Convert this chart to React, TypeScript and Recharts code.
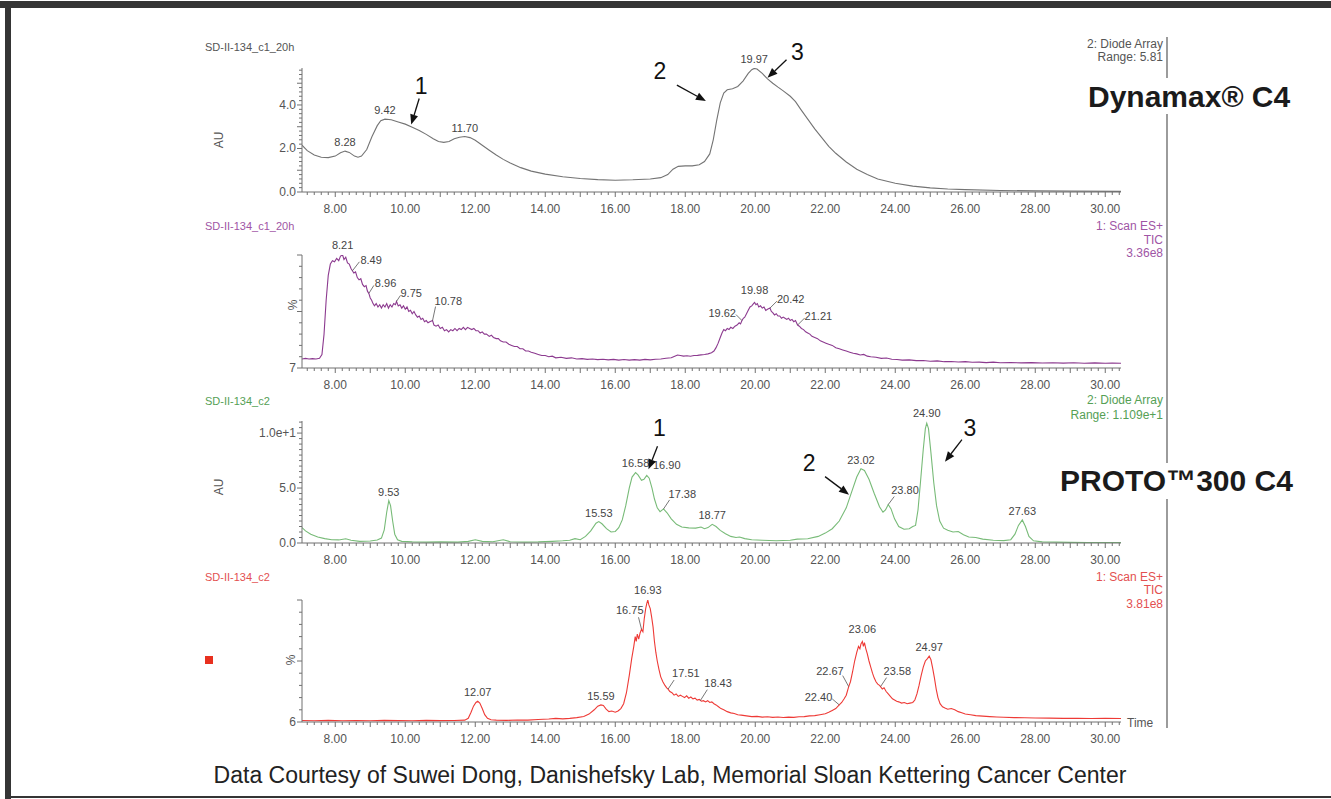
import React from 'react';
import { LineChart, Line, XAxis, YAxis, ReferenceDot } from 'recharts';

type Pt = [number, number];

const FONT = '"Liberation Sans", Arial, Helvetica, sans-serif';
const AXIS = '#707070';
const TICKTXT = '#555555';

// ---------- x axis ----------
const X_DOMAIN: [number, number] = [7.05, 30.45];
const xTickLabels = [8, 10, 12, 14, 16, 18, 20, 22, 24, 26, 28, 30];

// ---------- Panel 1: SD-II-134_c1_20h, Diode Array (AU) ----------
const c1Uv: Pt[] = [
  [7.05, 2.15], [7.2, 1.9], [7.4, 1.7], [7.6, 1.6], [7.8, 1.58], [8.0, 1.65], [8.15, 1.8], [8.28, 1.88], [8.4, 1.82],
  [8.55, 1.65], [8.65, 1.6], [8.75, 1.65], [8.9, 1.95], [9.05, 2.55], [9.2, 3.05], [9.3, 3.28], [9.42, 3.35], [9.6, 3.32],
  [9.8, 3.22], [10.0, 3.12], [10.2, 2.98], [10.4, 2.83], [10.6, 2.65], [10.8, 2.45], [10.95, 2.32], [11.1, 2.28],
  [11.25, 2.32], [11.4, 2.45], [11.55, 2.52], [11.7, 2.55], [11.85, 2.5], [12.0, 2.38], [12.2, 2.15], [12.4, 1.92],
  [12.6, 1.7], [12.8, 1.5], [13.0, 1.33], [13.3, 1.12], [13.6, 0.96], [14.0, 0.82], [14.5, 0.7], [15.0, 0.62],
  [15.5, 0.57], [16.0, 0.54], [16.5, 0.56], [17.0, 0.6], [17.3, 0.66], [17.5, 0.8], [17.65, 1.05], [17.8, 1.18],
  [18.0, 1.2], [18.2, 1.2], [18.4, 1.25], [18.55, 1.4], [18.7, 1.75], [18.8, 2.4], [18.9, 3.3], [19.0, 4.1],
  [19.1, 4.55], [19.2, 4.7], [19.35, 4.75], [19.5, 4.85], [19.65, 5.1], [19.8, 5.45], [19.9, 5.62], [19.97, 5.68],
  [20.05, 5.65], [20.2, 5.45], [20.35, 5.2], [20.5, 5.0], [20.65, 4.82], [20.8, 4.65], [21.0, 4.4], [21.15, 4.15],
  [21.3, 3.8], [21.5, 3.35], [21.7, 2.9], [21.9, 2.5], [22.1, 2.1], [22.3, 1.78], [22.6, 1.38], [22.9, 1.05],
  [23.2, 0.8], [23.5, 0.6], [24.0, 0.4], [24.5, 0.27], [25.0, 0.19], [25.5, 0.14], [26.0, 0.11], [27.0, 0.07],
  [28.0, 0.05], [29.0, 0.04], [30.45, 0.03],
];
const c1UvPeaks: Pt[] = [[8.28, 1.88], [9.42, 3.35], [11.7, 2.55], [19.97, 5.68]];
const c1UvArrows: [string, number, number][] = [['1', 10.17, 3.1], ['2', 18.59, 4.18], ['3', 20.35, 5.25]];
const c1UvYLabels: [number, string][] = [[0, '0.0'], [2, '2.0'], [4, '4.0']];

// ---------- Panel 2: SD-II-134_c1_20h, Scan ES+ TIC (%) ----------
const c1Ms: Pt[] = [
  [7.05, 8], [7.15, 8.5], [7.25, 8], [7.35, 8.3], [7.45, 8], [7.55, 8.6], [7.62, 12], [7.68, 30], [7.74, 60], [7.8, 82],
  [7.86, 92], [7.92, 95], [7.98, 94], [8.04, 97], [8.1, 95], [8.15, 99], [8.21, 100], [8.25, 96], [8.3, 98], [8.35, 93],
  [8.4, 92], [8.45, 88], [8.49, 86], [8.53, 84], [8.58, 85], [8.63, 80], [8.68, 78], [8.73, 79], [8.78, 74], [8.83, 72],
  [8.88, 73], [8.92, 68], [8.96, 66], [9.0, 62], [9.04, 60], [9.08, 57], [9.12, 55], [9.17, 57], [9.22, 54], [9.27, 56],
  [9.32, 53], [9.37, 56], [9.42, 54], [9.47, 57], [9.52, 53], [9.57, 56], [9.62, 54], [9.67, 57], [9.72, 56], [9.75, 59],
  [9.8, 55], [9.85, 56], [9.9, 53], [9.95, 55], [10.0, 52], [10.05, 54], [10.1, 50], [10.15, 51], [10.2, 48], [10.25, 50],
  [10.3, 47], [10.35, 45], [10.4, 46], [10.45, 43], [10.5, 44], [10.55, 41], [10.6, 42], [10.65, 40], [10.7, 41],
  [10.78, 42], [10.82, 38], [10.88, 37], [10.94, 38], [11.0, 35], [11.06, 36], [11.12, 33], [11.18, 34], [11.24, 32],
  [11.3, 34], [11.36, 33], [11.42, 35], [11.48, 33], [11.54, 35], [11.6, 34], [11.66, 36], [11.72, 34], [11.78, 36],
  [11.84, 35], [11.9, 34], [11.96, 35], [12.02, 33], [12.08, 33], [12.14, 31], [12.2, 32], [12.26, 30], [12.32, 30],
  [12.4, 28], [12.46, 29], [12.52, 27], [12.6, 26], [12.66, 26], [12.72, 24], [12.8, 23], [12.88, 23], [12.96, 21],
  [13.04, 20], [13.12, 19], [13.2, 19], [13.28, 17], [13.36, 17], [13.44, 15], [13.52, 15], [13.6, 14], [13.7, 13],
  [13.8, 12], [13.9, 11], [14.0, 11], [14.1, 10], [14.2, 10.5], [14.3, 9], [14.45, 9.5], [14.6, 8.5], [14.75, 9],
  [14.9, 8], [15.05, 8.3], [15.2, 7.6], [15.35, 8], [15.5, 7.4], [15.65, 7.8], [15.8, 7.2], [15.95, 7.6], [16.1, 7],
  [16.25, 7.5], [16.4, 7], [16.55, 7.4], [16.7, 7], [16.85, 7.6], [17.0, 7.2], [17.15, 7.8], [17.3, 8], [17.45, 8.6],
  [17.6, 9], [17.7, 10.5], [17.78, 11.5], [17.86, 11], [17.95, 10.5], [18.05, 10.8], [18.15, 10.4], [18.25, 11],
  [18.35, 11.2], [18.45, 11.6], [18.55, 12], [18.65, 12.5], [18.75, 13.5], [18.82, 15], [18.88, 18], [18.94, 22],
  [19.0, 27], [19.05, 31], [19.1, 34], [19.15, 33], [19.2, 35], [19.25, 34], [19.3, 36], [19.36, 35], [19.42, 37],
  [19.48, 38], [19.54, 40], [19.58, 39], [19.62, 42], [19.66, 44], [19.7, 45], [19.75, 48], [19.8, 51], [19.85, 54],
  [19.9, 55], [19.95, 57], [19.98, 58], [20.02, 56], [20.06, 57], [20.1, 54], [20.15, 55], [20.2, 53], [20.25, 54],
  [20.3, 51], [20.35, 52], [20.42, 53], [20.46, 50], [20.5, 49], [20.55, 47], [20.6, 48], [20.65, 46], [20.7, 46],
  [20.75, 44], [20.8, 45], [20.85, 44], [20.9, 43], [20.95, 44], [21.0, 42], [21.05, 43], [21.1, 41], [21.15, 42],
  [21.21, 38], [21.26, 37], [21.32, 35], [21.38, 34], [21.44, 32], [21.5, 31], [21.56, 30], [21.62, 28], [21.7, 27],
  [21.78, 26], [21.86, 24], [21.94, 23], [22.02, 22], [22.1, 21], [22.2, 20], [22.3, 18], [22.4, 17], [22.5, 16],
  [22.6, 15], [22.7, 14], [22.8, 13], [22.9, 12.5], [23.0, 11.5], [23.1, 12], [23.2, 10.5], [23.3, 10], [23.45, 9.5],
  [23.6, 8.5], [23.75, 8.8], [23.9, 7.8], [24.05, 7.5], [24.2, 7], [24.4, 7.2], [24.6, 6.5], [24.8, 6.6], [25.0, 6],
  [25.2, 6.3], [25.4, 5.6], [25.6, 5.8], [25.8, 5.3], [26.0, 5.6], [26.2, 5.1], [26.4, 5.2], [26.6, 4.8], [26.8, 5.2],
  [27.0, 4.6], [27.3, 4.9], [27.6, 4.5], [27.9, 4.8], [28.2, 4.4], [28.5, 4.7], [28.8, 4.3], [29.1, 4.6], [29.4, 4.2],
  [29.7, 4.5], [30.0, 4.2], [30.2, 4.4], [30.45, 4.2],
];
const c1MsPeaks: Pt[] = [
  [8.21, 100], [8.49, 86], [8.96, 66], [9.75, 59], [10.78, 42], [19.62, 42], [19.98, 58], [20.42, 53], [21.21, 38],
];
const c1MsYLabels: [number, string][] = [[0, '7']];

// ---------- Panel 3: SD-II-134_c2, Diode Array (AU) ----------
const c2Uv: Pt[] = [
  [7.05, 1.4], [7.15, 1.1], [7.3, 0.8], [7.5, 0.55], [7.7, 0.4], [7.9, 0.3], [8.1, 0.28], [8.3, 0.38], [8.45, 0.25],
  [8.7, 0.15], [9.0, 0.18], [9.2, 0.28], [9.32, 0.45], [9.4, 1.2], [9.47, 2.8], [9.53, 3.85], [9.58, 3.4], [9.64, 2.0],
  [9.7, 0.8], [9.78, 0.3], [9.9, 0.15], [10.2, 0.1], [10.6, 0.08], [11.0, 0.1], [11.5, 0.08], [11.8, 0.15], [12.0, 0.3],
  [12.2, 0.15], [12.5, 0.12], [12.8, 0.3], [13.0, 0.12], [13.4, 0.08], [13.8, 0.1], [14.2, 0.15], [14.5, 0.2],
  [14.7, 0.25], [14.85, 0.4], [15.0, 0.3], [15.15, 0.6], [15.3, 1.1], [15.45, 1.8], [15.53, 1.95], [15.62, 1.75],
  [15.75, 1.3], [15.88, 1.0], [16.0, 1.05], [16.1, 1.4], [16.2, 2.1], [16.3, 3.4], [16.4, 5.0], [16.48, 6.0],
  [16.58, 6.4], [16.65, 6.2], [16.75, 5.7], [16.82, 5.8], [16.9, 6.15], [16.97, 5.9], [17.05, 5.0], [17.12, 4.0],
  [17.2, 3.2], [17.28, 2.85], [17.38, 3.1], [17.48, 2.75], [17.6, 2.2], [17.75, 1.7], [17.9, 1.45], [18.1, 1.38],
  [18.3, 1.35], [18.45, 1.45], [18.55, 1.3], [18.65, 1.4], [18.77, 1.7], [18.88, 1.5], [19.0, 1.15], [19.15, 0.85],
  [19.3, 0.6], [19.45, 0.5], [19.55, 0.55], [19.7, 0.4], [19.9, 0.3], [20.2, 0.25], [20.6, 0.2], [21.0, 0.25],
  [21.2, 0.35], [21.5, 0.38], [21.8, 0.6], [22.0, 0.9], [22.2, 1.3], [22.4, 2.0], [22.6, 3.2], [22.75, 4.6], [22.9, 6.0],
  [23.02, 6.75], [23.12, 6.6], [23.25, 5.8], [23.4, 4.5], [23.55, 3.3], [23.65, 2.8], [23.72, 3.0], [23.8, 3.5],
  [23.88, 3.1], [23.98, 2.2], [24.1, 1.5], [24.25, 1.25], [24.4, 1.3], [24.5, 1.5], [24.58, 1.6], [24.65, 3.0],
  [24.72, 5.5], [24.8, 8.5], [24.86, 10.4], [24.9, 10.9], [24.95, 10.4], [25.02, 8.2], [25.1, 5.5], [25.18, 3.4],
  [25.27, 2.0], [25.38, 1.35], [25.5, 1.15], [25.65, 1.0], [25.8, 1.05], [25.95, 0.75], [26.1, 0.55], [26.3, 0.5],
  [26.5, 0.35], [26.8, 0.25], [27.1, 0.22], [27.3, 0.3], [27.42, 0.8], [27.52, 1.6], [27.63, 2.1], [27.72, 1.5],
  [27.82, 0.6], [27.95, 0.2], [28.2, 0.1], [28.6, 0.08], [29.0, 0.06], [29.5, 0.05], [30.0, 0.04], [30.45, 0.04],
];
const c2UvPeaks: Pt[] = [
  [9.53, 3.85], [15.53, 1.95], [16.58, 6.4], [16.9, 6.15], [17.38, 3.1], [18.77, 1.7], [23.02, 6.75], [23.8, 3.5],
  [24.9, 10.9], [27.63, 2.1],
];
const c2UvArrows: [string, number, number][] = [['1', 16.95, 6.7], ['2', 22.68, 4.4], ['3', 25.42, 7.4]];
const c2UvYLabels: [number, string][] = [[0, '0.0'], [5, '5.0'], [10, '1.0e+1']];

// ---------- Panel 4: SD-II-134_c2, Scan ES+ TIC (%) ----------
const c2Ms: Pt[] = [
  [7.05, 1.2], [7.4, 1.0], [7.8, 1.3], [8.2, 1.0], [8.6, 1.2], [9.0, 1.0], [9.4, 1.3], [9.8, 1.1], [10.2, 1.0],
  [10.6, 1.3], [11.0, 1.1], [11.4, 1.2], [11.7, 1.5], [11.8, 3], [11.88, 8], [11.95, 13], [12.02, 16], [12.07, 17],
  [12.13, 15.5], [12.2, 11], [12.27, 6], [12.35, 3], [12.45, 1.8], [12.6, 1.5], [12.9, 1.3], [13.2, 1.6], [13.5, 1.5],
  [13.8, 2], [14.1, 2.4], [14.3, 3], [14.5, 2.6], [14.7, 3], [14.9, 3.6], [15.1, 4.5], [15.25, 6.5], [15.4, 10],
  [15.5, 13], [15.59, 14], [15.66, 13.5], [15.74, 10.5], [15.82, 8.5], [15.9, 9], [16.0, 8], [16.08, 9], [16.16, 11],
  [16.24, 15], [16.32, 24], [16.4, 38], [16.47, 52], [16.53, 62], [16.57, 70], [16.6, 66], [16.63, 72], [16.67, 68],
  [16.71, 73], [16.75, 76], [16.79, 74], [16.83, 85], [16.87, 93], [16.9, 97], [16.93, 100], [16.96, 96], [17.0, 93],
  [17.04, 86], [17.08, 78], [17.12, 66], [17.16, 57], [17.2, 50], [17.25, 43], [17.3, 37], [17.36, 33], [17.42, 30],
  [17.47, 28], [17.51, 27], [17.56, 25], [17.62, 24], [17.68, 22], [17.74, 23], [17.8, 21], [17.86, 22], [17.92, 21],
  [17.98, 20], [18.04, 21.5], [18.1, 19.5], [18.16, 20.5], [18.22, 19], [18.28, 19.5], [18.34, 18], [18.4, 18.5],
  [18.46, 17], [18.52, 17.5], [18.58, 16.5], [18.64, 17.5], [18.7, 16], [18.76, 16.5], [18.82, 15], [18.88, 14],
  [18.95, 12.5], [19.02, 11], [19.1, 10], [19.2, 8.5], [19.3, 7.5], [19.4, 7], [19.5, 6], [19.6, 5.6], [19.75, 5],
  [19.9, 4.4], [20.05, 4.6], [20.2, 4], [20.35, 4.3], [20.5, 3.8], [20.65, 4.1], [20.8, 3.7], [20.95, 4], [21.1, 3.8],
  [21.25, 4.3], [21.4, 4.4], [21.55, 5], [21.7, 5.2], [21.85, 6], [22.0, 6.8], [22.1, 8], [22.2, 9.5], [22.3, 11],
  [22.4, 14], [22.47, 16], [22.54, 19], [22.6, 22], [22.67, 29], [22.72, 33], [22.78, 41], [22.84, 50], [22.9, 57],
  [22.95, 62], [22.99, 60], [23.02, 64], [23.06, 66], [23.09, 62], [23.12, 65], [23.16, 60], [23.2, 56], [23.25, 50],
  [23.3, 45], [23.35, 40], [23.4, 36], [23.45, 33], [23.5, 31], [23.55, 30], [23.58, 29], [23.63, 27], [23.68, 28],
  [23.74, 25], [23.8, 23], [23.86, 21], [23.92, 19], [23.98, 18], [24.04, 17], [24.1, 16.5], [24.18, 15.5],
  [24.26, 16], [24.34, 15], [24.42, 15.5], [24.5, 16], [24.56, 18], [24.62, 23], [24.68, 30], [24.74, 38], [24.8, 45],
  [24.86, 50], [24.92, 52], [24.97, 54], [25.02, 51], [25.07, 44], [25.12, 36], [25.17, 27], [25.22, 20], [25.28, 15],
  [25.35, 12.5], [25.42, 11.5], [25.5, 10.5], [25.6, 11], [25.7, 10], [25.8, 8.5], [25.9, 7.5], [26.0, 6.5],
  [26.15, 6], [26.3, 5.2], [26.5, 4.8], [26.7, 4.4], [26.9, 4.1], [27.1, 3.9], [27.4, 3.6], [27.7, 3.5], [28.0, 3.3],
  [28.4, 3.2], [28.8, 3.0], [29.2, 3.1], [29.6, 2.9], [30.0, 3.0], [30.45, 2.9],
];
const c2MsPeaks: Pt[] = [
  [12.07, 17], [15.59, 14], [16.75, 76], [16.93, 100], [17.51, 27], [18.43, 17.5], [22.4, 14], [22.67, 29],
  [23.06, 66], [23.58, 29], [24.97, 54],
];
const c2MsYLabels: [number, string][] = [[0, '6']];

// ---------- label placement (pixel offsets from the anchor point) ----------
type LabelStyle = { lead?: [number, number, number, number]; tx: number; ty: number; anchor: 'start' | 'middle' | 'end' };
const ABOVE: LabelStyle = { tx: 0, ty: -5, anchor: 'middle' };
const c1MsLabelStyles: Record<string, LabelStyle> = {
  '8.21': { tx: 0, ty: -6, anchor: 'middle' },
  '8.49': { lead: [0, 0, 7, -9], tx: 8, ty: -7, anchor: 'start' },
  '8.96': { lead: [0, 0, 5, -8], tx: 6, ty: -6, anchor: 'start' },
  '9.75': { lead: [0, 0, 4, -6], tx: 4, ty: -4, anchor: 'start' },
  '10.78': { lead: [0, 0, 3, -14], tx: 2, ty: -16, anchor: 'start' },
  '19.62': { lead: [0, 0, -6, -6], tx: -6, ty: -4, anchor: 'end' },
  '19.98': { tx: 0, ty: -8, anchor: 'middle' },
  '20.42': { lead: [0, 0, 7, -7], tx: 7, ty: -5, anchor: 'start' },
  '21.21': { lead: [0, 0, 7, -7], tx: 7, ty: -5, anchor: 'start' },
};
const c2UvLabelStyles: Record<string, LabelStyle> = {
  '16.58': { tx: 0, ty: -6, anchor: 'middle' },
  '16.90': { tx: 20, ty: -6, anchor: 'middle' },
  '17.38': { lead: [0, 0, 6, -9], tx: 5, ty: -11, anchor: 'start' },
  '23.80': { lead: [0, 0, 6, -8], tx: 3, ty: -11, anchor: 'start' },
  '24.90': { tx: 0, ty: -6, anchor: 'middle' },
};
const c2MsLabelStyles: Record<string, LabelStyle> = {
  '16.75': { lead: [0, 0, -3, -12], tx: 2, ty: -15, anchor: 'end' },
  '16.93': { tx: 0, ty: -6, anchor: 'middle' },
  '17.51': { lead: [0, 0, 6, -9], tx: 4, ty: -12, anchor: 'start' },
  '18.43': { lead: [0, 0, 7, -11], tx: 4, ty: -14, anchor: 'start' },
  '22.40': { lead: [0, 0, -7, -6], tx: -7, ty: -4, anchor: 'end' },
  '22.67': { lead: [0, 0, -6, -11], tx: -5, ty: -12, anchor: 'end' },
  '23.06': { tx: 0, ty: -8, anchor: 'middle' },
  '23.58': { lead: [0, 0, 6, -9], tx: 3, ty: -12, anchor: 'start' },
};
// arrows: tail offset and number offset from the arrow tip
type ArrowStyle = { tail: [number, number]; num: [number, number] };
const c1UvArrowStyles: Record<string, ArrowStyle> = {
  '1': { tail: [8, -26], num: [10, -31] },
  '2': { tail: [-29, -16], num: [-46, -22] },
  '3': { tail: [19, -18], num: [30, -18] },
};
const c2UvArrowStyles: Record<string, ArrowStyle> = {
  '1': { tail: [9, -23], num: [11, -33] },
  '2': { tail: [-24, -18], num: [-40, -24] },
  '3': { tail: [17, -22], num: [25, -26] },
};

// ---------- helpers ----------
const xMinorTicks: number[] = [];
for (let i = 36; i <= 152; i++) xMinorTicks.push(Math.round(i * 2) / 10);

const stepTicks = (max: number, step: number) => {
  const out: number[] = [];
  for (let i = 0; i * step <= max + 1e-9; i++) out.push(Math.round(i * step * 100) / 100);
  return out;
};

const XTick = (p: any) => {
  const { x, y, payload } = p;
  const v = payload.value as number;
  const r = Math.round(v);
  const isInt = Math.abs(v - r) < 1e-6;
  const lab = isInt && xTickLabels.includes(r);
  return (
    <g>
      <line x1={x} y1={y} x2={x} y2={y + (isInt ? 5 : 3)} stroke={AXIS} strokeWidth={1} />
      {lab && (
        <text x={x} y={y + 21} textAnchor="middle" fontSize={12} fill={TICKTXT} fontFamily={FONT}>
          {r.toFixed(2)}
        </text>
      )}
    </g>
  );
};

const makeYTick = (labels: [number, string][], majors: number[]) => (p: any) => {
  const { x, y, payload } = p;
  const v = payload.value as number;
  const isMajor = majors.some((m) => Math.abs(m - v) < 1e-6);
  const lab = labels.find(([m]) => Math.abs(m - v) < 1e-6);
  const len = isMajor ? 5 : 3;
  return (
    <g>
      <line x1={x - len} y1={y} x2={x} y2={y} stroke={AXIS} strokeWidth={1} />
      {lab && (
        <text x={x - len - 1} y={y + 4} textAnchor="end" fontSize={12} fill={TICKTXT} fontFamily={FONT}>
          {lab[1]}
        </text>
      )}
    </g>
  );
};

const PeakMark = ({ cx, cy, text, s }: { cx: number; cy: number; text: string; s: LabelStyle }) => (
  <g>
    {s.lead && (
      <line x1={cx + s.lead[0]} y1={cy + s.lead[1]} x2={cx + s.lead[2]} y2={cy + s.lead[3]} stroke="#555" strokeWidth={0.8} />
    )}
    <text x={cx + s.tx} y={cy + s.ty} textAnchor={s.anchor} fontSize={11} fill="#444" fontFamily={FONT}>
      {text}
    </text>
  </g>
);

const ArrowMark = ({ cx, cy, num, s }: { cx: number; cy: number; num: string; s: ArrowStyle }) => {
  const tx = cx + s.tail[0];
  const ty = cy + s.tail[1];
  const dx = cx - tx;
  const dy = cy - ty;
  const L = Math.sqrt(dx * dx + dy * dy) || 1;
  const ux = dx / L;
  const uy = dy / L;
  const hl = 10;
  const hw = 4;
  const bx = cx - ux * hl;
  const by = cy - uy * hl;
  const pts = `${cx},${cy} ${bx - uy * hw},${by + ux * hw} ${bx + uy * hw},${by - ux * hw}`;
  return (
    <g>
      <line x1={tx} y1={ty} x2={bx} y2={by} stroke="#111" strokeWidth={1.3} />
      <polygon points={pts} fill="#111" />
      <text x={cx + s.num[0]} y={cy + s.num[1]} textAnchor="middle" fontSize={23} fill="#111" fontFamily={FONT}>
        {num}
      </text>
    </g>
  );
};

type PanelProps = {
  top: number;
  height: number;
  mTop: number;
  mBottom: number;
  series: Pt[];
  color: string;
  yDomain: [number, number];
  yTicks: number[];
  yLabels: [number, string][];
  yMajors: number[];
  peaks: Pt[];
  peakStyles: Record<string, LabelStyle>;
  arrows?: [string, number, number][];
  arrowStyles?: Record<string, ArrowStyle>;
};

function Panel(p: PanelProps) {
  const data = p.series.map(([t, v]) => ({ t, v }));
  const YT = makeYTick(p.yLabels, p.yMajors);
  return (
    <div style={{ position: 'absolute', left: 0, top: p.top }}>
      <LineChart width={1331} height={p.height} data={data} margin={{ top: p.mTop, right: 210, bottom: p.mBottom, left: 242 }}>
        <XAxis
          dataKey="t"
          type="number"
          domain={X_DOMAIN}
          allowDataOverflow
          ticks={xMinorTicks}
          interval={0}
          tickSize={0}
          tickMargin={0}
          tickLine={false}
          axisLine={{ stroke: AXIS, strokeWidth: 1 }}
          height={30}
          tick={(tp: any) => <XTick {...tp} />}
        />
        <YAxis
          type="number"
          domain={p.yDomain}
          allowDataOverflow
          ticks={p.yTicks}
          interval={0}
          width={60}
          tickSize={0}
          tickMargin={0}
          tickLine={false}
          axisLine={{ stroke: AXIS, strokeWidth: 1 }}
          tick={(tp: any) => <YT {...tp} />}
        />
        <Line type="linear" dataKey="v" stroke={p.color} strokeWidth={1.1} dot={false} isAnimationActive={false} />
        {p.peaks.map(([t, v]) => {
          const txt = t.toFixed(2);
          const s = p.peakStyles[txt] ?? ABOVE;
          return (
            <ReferenceDot
              key={'pk' + txt}
              x={t}
              y={v}
              r={0}
              ifOverflow="visible"
              shape={(sp: any) => <PeakMark cx={sp.cx} cy={sp.cy} text={txt} s={s} />}
            />
          );
        })}
        {(p.arrows ?? []).map(([n, t, v]) => {
          const s = (p.arrowStyles ?? {})[n];
          return (
            <ReferenceDot
              key={'ar' + n}
              x={t}
              y={v}
              r={0}
              ifOverflow="visible"
              shape={(sp: any) => <ArrowMark cx={sp.cx} cy={sp.cy} num={n} s={s} />}
            />
          );
        })}
      </LineChart>
    </div>
  );
}

const T = (props: { x: number; y: number; fill?: string; size?: number; anchor?: 'start' | 'middle' | 'end'; weight?: number; children: React.ReactNode }) => (
  <text
    x={props.x}
    y={props.y}
    fill={props.fill ?? TICKTXT}
    fontSize={props.size ?? 12}
    textAnchor={props.anchor ?? 'start'}
    fontWeight={props.weight ?? 400}
    fontFamily={FONT}
  >
    {props.children}
  </text>
);

const PURPLE = '#8c3a8f';
const PURPLE_T = '#a055a5';
const GREEN = '#78bb78';
const GREEN_T = '#55a055';
const RED = '#ee3a36';
const RED_T = '#e35050';

export default function App() {
  return (
    <div style={{ position: 'absolute', left: 0, top: 0, width: 1331, height: 799, background: '#fff', overflow: 'hidden', fontFamily: FONT }}>
      <Panel
        top={20}
        height={210}
        mTop={48}
        mBottom={8}
        series={c1Uv}
        color="#747474"
        yDomain={[0, 5.7]}
        yTicks={stepTicks(5.6, 0.2)}
        yLabels={c1UvYLabels}
        yMajors={[0, 1, 2, 3, 4, 5]}
        peaks={c1UvPeaks}
        peakStyles={{}}
        arrows={c1UvArrows}
        arrowStyles={c1UvArrowStyles}
      />
      <Panel
        top={215}
        height={185}
        mTop={40}
        mBottom={2}
        series={c1Ms}
        color={PURPLE}
        yDomain={[0, 100]}
        yTicks={stepTicks(100, 10)}
        yLabels={c1MsYLabels}
        yMajors={[0, 50, 100]}
        peaks={c1MsPeaks}
        peakStyles={c1MsLabelStyles}
      />
      <Panel
        top={390}
        height={185}
        mTop={31}
        mBottom={2}
        series={c2Uv}
        color={GREEN}
        yDomain={[0, 11.1]}
        yTicks={stepTicks(11, 0.5)}
        yLabels={c2UvYLabels}
        yMajors={[0, 5, 10]}
        peaks={c2UvPeaks}
        peakStyles={c2UvLabelStyles}
        arrows={c2UvArrows}
        arrowStyles={c2UvArrowStyles}
      />
      <Panel
        top={570}
        height={190}
        mTop={30}
        mBottom={8}
        series={c2Ms}
        color={RED}
        yDomain={[0, 100]}
        yTicks={stepTicks(100, 10)}
        yLabels={c2MsYLabels}
        yMajors={[0, 50, 100]}
        peaks={c2MsPeaks}
        peakStyles={c2MsLabelStyles}
      />
      <svg width={1331} height={799} style={{ position: 'absolute', left: 0, top: 0, pointerEvents: 'none' }}>
        {/* frame */}
        <rect x={0} y={1} width={1331} height={7} fill="#353535" />
        <rect x={5} y={1} width={6} height={798} fill="#353535" />
        <rect x={5} y={796} width={1326} height={2} fill="#353535" />
        {/* right separator */}
        <line x1={1167} y1={37} x2={1167} y2={728} stroke="#666" strokeWidth={1.3} />
        {/* panel 1 texts */}
        <T x={205} y={51} size={11}>SD-II-134_c1_20h</T>
        <T x={1163} y={48} anchor="end">2: Diode Array</T>
        <T x={1163} y={61} anchor="end">Range: 5.81</T>
        <g transform="translate(223,140) rotate(-90)">
          <T x={0} y={0} anchor="middle">AU</T>
        </g>
        {/* panel 2 texts */}
        <T x={205} y={230} size={11} fill={PURPLE_T}>SD-II-134_c1_20h</T>
        <T x={1163} y={230} anchor="end" fill={PURPLE_T}>1: Scan ES+</T>
        <T x={1163} y={244} anchor="end" fill={PURPLE_T}>TIC</T>
        <T x={1163} y={257} anchor="end" fill={PURPLE_T}>3.36e8</T>
        <g transform="translate(297,305) rotate(-90)">
          <T x={0} y={0} anchor="middle">%</T>
        </g>
        {/* panel 3 texts */}
        <T x={205} y={405} size={11} fill={GREEN_T}>SD-II-134_c2</T>
        <T x={1163} y={404} anchor="end" fill={GREEN_T}>2: Diode Array</T>
        <T x={1163} y={419} anchor="end" fill={GREEN_T}>Range: 1.109e+1</T>
        <g transform="translate(223,487) rotate(-90)">
          <T x={0} y={0} anchor="middle">AU</T>
        </g>
        {/* panel 4 texts */}
        <T x={205} y={581} size={11} fill={RED_T}>SD-II-134_c2</T>
        <T x={1163} y={581} anchor="end" fill={RED_T}>1: Scan ES+</T>
        <T x={1163} y={594} anchor="end" fill={RED_T}>TIC</T>
        <T x={1163} y={608} anchor="end" fill={RED_T}>3.81e8</T>
        <g transform="translate(295,660) rotate(-90)">
          <T x={0} y={0} anchor="middle">%</T>
        </g>
        <rect x={205} y={656} width={8} height={8} fill="#e8301f" />
        <T x={1127} y={727}>Time</T>
        {/* column labels */}
        <rect x={1080} y={78} width={226} height={36} fill="#fff" />
        <T x={1088} y={107} size={30} weight={700} fill="#1b1b1b">Dynamax® C4</T>
        <rect x={1054} y={463} width={252} height={36} fill="#fff" />
        <T x={1060} y={491} size={30} weight={700} fill="#1b1b1b">PROTO™300 C4</T>
        {/* footer */}
        <T x={670} y={783} size={23} anchor="middle" fill="#222">
          Data Courtesy of Suwei Dong, Danishefsky Lab, Memorial Sloan Kettering Cancer Center
        </T>
      </svg>
    </div>
  );
}
